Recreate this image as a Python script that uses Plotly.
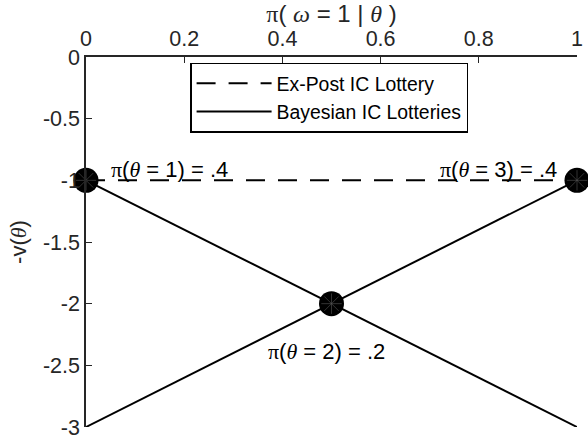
import plotly.graph_objects as go

# data
expost_x = [0, 1]
expost_y = [-1, -1]
bayes_x = [0, 1, None, 0, 1]
bayes_y = [-1, -3, None, -3, -1]
point_x = [0, 0.5, 1]
point_y = [-1, -2, -1]
label_x = [0.171, 0.489, 0.841]
label_y = [-0.91, -2.39, -0.91]
label_text = ["1) = .4", "2) = .2", "3) = .4"]
xtick_vals = [0, 0.2, 0.4, 0.6, 0.8, 1]
xtick_text = ["0", "0.2", "0.4", "0.6", "0.8", "1"]
ytick_vals = [0, -0.5, -1, -1.5, -2, -2.5, -3]
ytick_text = ["0", "-0.5", "-1", "-1.5", "-2", "-2.5", "-3"]

SANS = "Liberation Sans, Arial, Helvetica, sans-serif"
SERIF = "Liberation Serif, Times New Roman, serif"
AX = "#262626"


def greek(ch, italic=True):
    s = f"<span style='font-family:{SERIF}'>{ch}</span>"
    return f"<i>{s}</i>" if italic else s


fig = go.Figure()
fig.add_trace(go.Scatter(
    x=expost_x, y=expost_y, mode="lines", name="Ex-Post IC Lottery",
    line=dict(color="black", width=2, dash="19px,13px"), cliponaxis=False,
))
fig.add_trace(go.Scatter(
    x=bayes_x, y=bayes_y, mode="lines", name="Bayesian IC Lotteries",
    line=dict(color="black", width=2), cliponaxis=False,
))
fig.add_trace(go.Scatter(
    x=point_x, y=point_y, mode="markers", showlegend=False,
    marker=dict(symbol="circle", size=25, color="black"), cliponaxis=False,
))
fig.add_trace(go.Scatter(
    x=point_x, y=point_y, mode="markers", showlegend=False,
    marker=dict(symbol="asterisk-open", size=17, color="#555555", line=dict(width=0.6, color="#555555")),
    cliponaxis=False,
))

for lx, ly, lt in zip(label_x, label_y, label_text):
    fig.add_annotation(
        x=lx, y=ly, xref="x", yref="y", showarrow=False,
        text=greek("π", False) + "(" + greek("θ") + " = " + lt,
        font=dict(family=SANS, size=22, color="black"),
    )

fig.update_xaxes(
    side="top", range=[0, 1], tickvals=xtick_vals, ticktext=xtick_text,
    ticks="inside", ticklen=6, tickwidth=1.2, tickcolor=AX,
    showline=True, linecolor=AX, linewidth=1.5, showgrid=False, zeroline=False,
    tickfont=dict(family=SANS, size=21.5, color=AX), ticklabelstandoff=1,
    automargin=False,
    title=dict(text=greek("π", False) + "( " + greek("ω") + " = 1 | " + greek("θ") + " )",
               font=dict(family=SANS, size=24, color=AX), standoff=0),
)
fig.update_yaxes(
    range=[-3, 0], tickvals=ytick_vals, ticktext=ytick_text,
    ticks="inside", ticklen=6, tickwidth=1.2, tickcolor=AX,
    showline=True, linecolor=AX, linewidth=1.5, showgrid=False, zeroline=False,
    tickfont=dict(family=SANS, size=21.5, color=AX), ticklabelstandoff=0,
    automargin=False,
    title=dict(text="-v(" + greek("θ") + ")", font=dict(family=SANS, size=22, color=AX), standoff=10),
)
fig.update_layout(
    width=588, height=441,
    margin=dict(l=86, r=11, t=57, b=14),
    paper_bgcolor="white", plot_bgcolor="white",
    font=dict(family=SANS, color="black"),
    legend=dict(
        x=0.212, y=0.985, xanchor="left", yanchor="top",
        bordercolor="black", borderwidth=1.5, bgcolor="white",
        font=dict(family=SANS, size=19.4, color="black"),
        itemwidth=75, tracegroupgap=0,
    ),
)

# the page's default 8px body margin would shift the whole figure
fig.write_html("out.html", config={"displayModeBar": False},
               post_script="document.body.style.margin='0';")
